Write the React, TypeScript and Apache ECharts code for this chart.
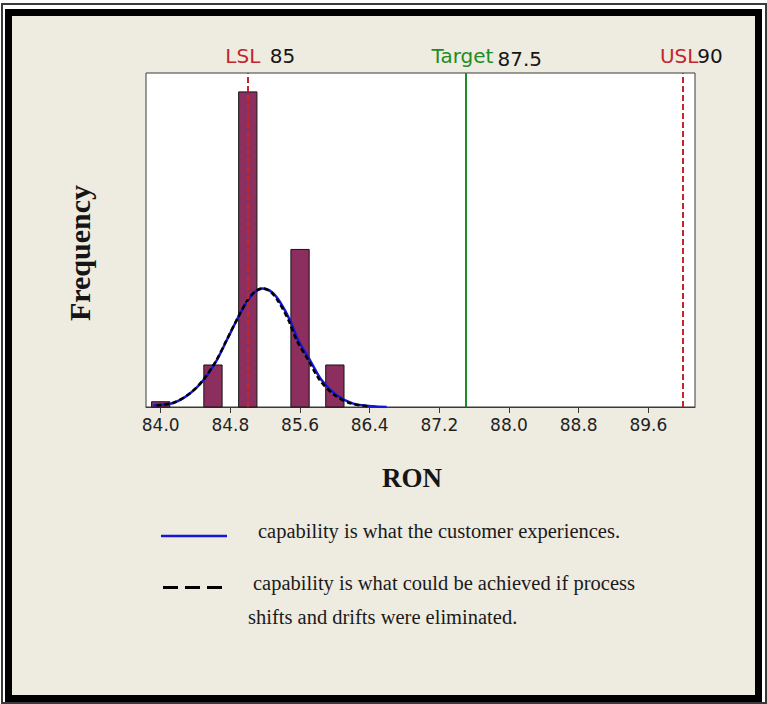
import React, { useEffect, useRef } from "react";
import * as echarts from "echarts";

// ---------- data ----------
const binCenters = [84.0, 84.6, 85.0, 85.6, 86.0];
const binCounts = [0.5, 4, 30, 15, 4];
const binWidth = 0.21;

const overallX = [83.915, 84.145, 84.336, 84.489, 84.643, 84.758, 84.873, 84.988, 85.083, 85.171, 85.275, 85.37, 85.485, 85.58, 85.715, 85.849, 86.021, 86.212, 86.442, 86.596];
const overallY = [0.16, 0.38, 1.28, 2.54, 4.45, 6.35, 8.26, 10.0, 10.95, 11.28, 10.95, 10.0, 8.26, 6.35, 4.45, 2.54, 1.11, 0.32, 0.07, 0.0];

const withinX = [83.95, 84.145, 84.336, 84.489, 84.643, 84.758, 84.873, 84.988, 85.083, 85.171, 85.265, 85.355, 85.468, 85.562, 85.695, 85.828, 86.0, 86.19, 86.4];
const withinY = [0.15, 0.4, 1.3, 2.58, 4.5, 6.4, 8.3, 10.05, 11.0, 11.3, 10.95, 10.0, 8.26, 6.35, 4.45, 2.54, 1.11, 0.32, 0.06];

const tickValues = [84.0, 84.8, 85.6, 86.4, 87.2, 88.0, 88.8, 89.6];
const xMin = 83.831;
const xMax = 90.136;
const yMax = 31.8;

const specNames = ["LSL", "Target", "USL"];
const specValues = [85, 87.5, 90];
const specLabels = ["85", "87.5", "90"];

const legendTexts = [
  "capability is what the customer experiences.",
  "capability is what could be achieved if process",
  "shifts and drifts were eliminated.",
];

// ---------- styles ----------
const RED = "#C3262E";
const GREEN = "#1F8C25";
const BAR = "#8C2F5E";
const BLUE = "#1616D6";
const specColors = [RED, GREEN, RED];
const specLine = [
  { color: RED, type: [6, 3], width: 2 },
  { color: GREEN, type: "solid", width: 2 },
  { color: RED, type: [6, 3], width: 2 },
];
const specNameDx = [-5, -3, -4];
const specValueDx = [22, 32, 14];
const specValueDy = [0, 3, 0];

const SANS = "'DejaVu Sans', Verdana, sans-serif";
const SERIF = "'Liberation Serif', 'Times New Roman', serif";

export default function App() {
  const ref = useRef<HTMLDivElement>(null);

  useEffect(() => {
    if (!ref.current) return;
    const chart = echarts.init(ref.current, null, { renderer: "svg" });

    const option: any = {
      animation: false,
      backgroundColor: "transparent",
      grid: {
        left: 146,
        top: 73,
        width: 549,
        height: 334,
        show: true,
        backgroundColor: "#ffffff",
        borderColor: "#3a3a3a",
        borderWidth: 1,
      },
      xAxis: {
        type: "value",
        min: xMin,
        max: xMax,
        name: "RON",
        nameLocation: "middle",
        nameGap: 57,
        nameTextStyle: {
          fontFamily: SERIF,
          fontWeight: "bold",
          fontSize: 27,
          color: "#151515",
          padding: [0, 17, 0, 0],
        },
        axisLine: { show: true, lineStyle: { color: "#3a3a3a", width: 1 } },
        axisTick: { show: true, length: 6, customValues: tickValues, lineStyle: { color: "#3a3a3a" } },
        axisLabel: {
          customValues: tickValues,
          formatter: (v: number) => v.toFixed(1),
          fontFamily: SANS,
          fontSize: 17,
          color: "#222",
          margin: 9,
        },
        splitLine: { show: false },
      },
      yAxis: {
        type: "value",
        min: 0,
        max: yMax,
        name: "Frequency",
        nameLocation: "middle",
        nameRotate: 90,
        nameGap: 52,
        nameTextStyle: {
          fontFamily: SERIF,
          fontWeight: "bold",
          fontSize: 30,
          color: "#151515",
          padding: [0, 26, 0, 0],
        },
        axisLine: { show: false },
        axisTick: { show: false },
        axisLabel: { show: false },
        splitLine: { show: false },
      },
      series: [
        {
          type: "line",
          data: [],
          z: 1,
          markLine: {
            silent: true,
            symbol: ["none", "none"],
            label: { show: false },
            data: specValues.map((v, i) => ({ xAxis: v, lineStyle: specLine[i] })),
          },
        },
        {
          type: "custom",
          z: 2,
          data: binCenters.map((c, i) => [c, binCounts[i]]),
          encode: { x: 0, y: 1 },
          renderItem: (params: any, api: any) => {
            const c = api.value(0);
            const h = api.value(1);
            const p0 = api.coord([c - binWidth / 2, 0]);
            const p1 = api.coord([c + binWidth / 2, h]);
            return {
              type: "rect",
              shape: { x: p0[0], y: p1[1], width: p1[0] - p0[0], height: p0[1] - p1[1] },
              style: { fill: BAR, stroke: "#151515", lineWidth: 1 },
            };
          },
        },
        {
          type: "line",
          z: 3,
          smooth: 0.3,
          showSymbol: false,
          data: overallX.map((x, i) => [x, overallY[i]]),
          lineStyle: { color: BLUE, width: 2.5 },
        },
        {
          type: "line",
          z: 4,
          smooth: 0.3,
          showSymbol: false,
          data: withinX.map((x, i) => [x, withinY[i]]),
          lineStyle: { color: "#000", width: 2.5, type: [5, 3] },
        },
      ],
    };

    chart.setOption(option);

    const graphics: any[] = [];
    specValues.forEach((v, i) => {
      const px = chart.convertToPixel({ xAxisIndex: 0 }, v) as number;
      graphics.push({
        type: "text",
        x: px + specNameDx[i],
        y: 56,
        style: {
          text: specNames[i],
          fill: specColors[i],
          font: `20px ${SANS}`,
          textAlign: "center",
          textVerticalAlign: "middle",
        },
      });
      graphics.push({
        type: "text",
        x: px + specValueDx[i],
        y: 56 + specValueDy[i],
        style: {
          text: specLabels[i],
          fill: "#151515",
          font: `20px ${SANS}`,
          textAlign: "left",
          textVerticalAlign: "middle",
        },
      });
    });

    // legend
    graphics.push({
      type: "line",
      shape: { x1: 161, y1: 536, x2: 227, y2: 536 },
      style: { stroke: BLUE, lineWidth: 2.5 },
    });
    graphics.push({
      type: "line",
      shape: { x1: 163, y1: 587.5, x2: 222, y2: 587.5 },
      style: { stroke: "#000", lineWidth: 3, lineDash: [15, 7] },
    });
    const legendPos = [
      [258, 541],
      [253, 593],
      [248, 627],
    ];
    legendTexts.forEach((t, i) => {
      graphics.push({
        type: "text",
        x: legendPos[i][0],
        y: legendPos[i][1],
        style: {
          text: t,
          fill: "#1a1a1a",
          font: `20.5px ${SERIF}`,
          textAlign: "left",
          textVerticalAlign: "bottom",
        },
      });
    });

    chart.setOption({ graphic: graphics });

    return () => chart.dispose();
  }, []);

  return (
    <div style={{ position: "fixed", left: 0, top: 0, width: 767, height: 704, background: "#ffffff" }}>
      <div
        style={{
          position: "absolute",
          left: 1,
          top: 3,
          right: 0,
          bottom: 0,
          border: "2px solid #3a3a3a",
          boxSizing: "border-box",
        }}
      />
      <div
        style={{
          position: "absolute",
          left: 5,
          top: 9,
          width: 757,
          height: 693,
          border: "7px solid #000",
          boxSizing: "border-box",
          background: "#EEEBE1",
        }}
      />
      <div ref={ref} style={{ position: "absolute", left: 0, top: 0, width: 767, height: 704 }} />
    </div>
  );
}
